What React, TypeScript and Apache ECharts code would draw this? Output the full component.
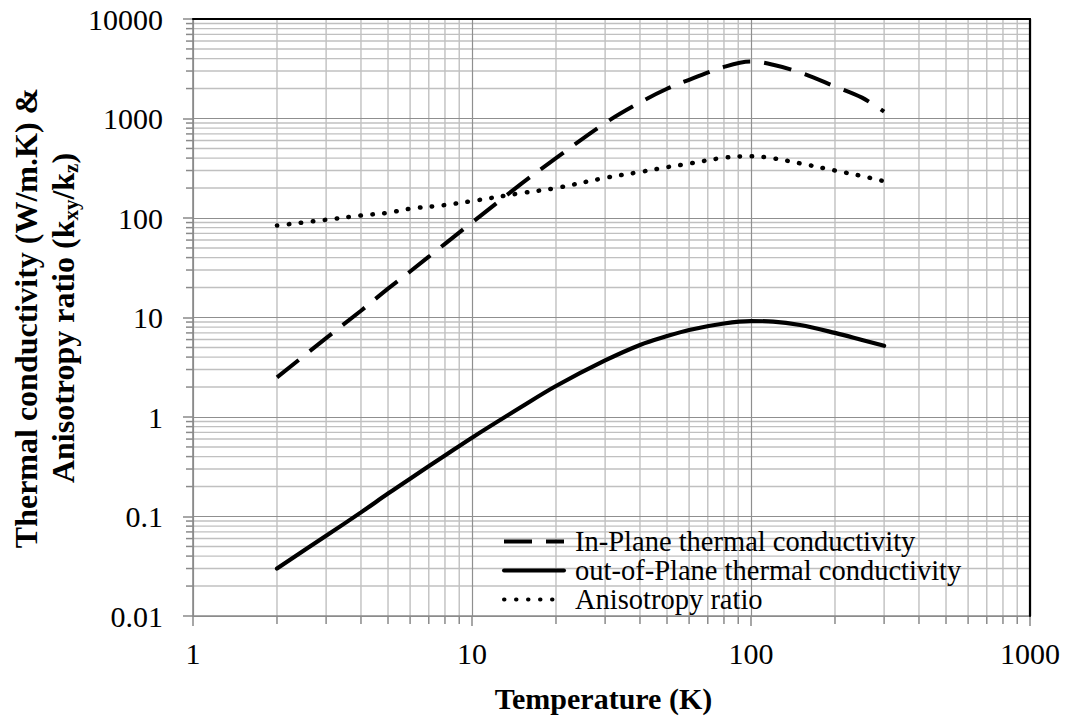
import React, { useEffect, useRef } from 'react';
import * as echarts from 'echarts';

const temperatures = [2, 3, 4, 5, 6, 8, 10, 15, 20, 30, 40, 50, 60, 80, 100, 120, 150, 200, 250, 300];
const inPlane = [2.5, 6.2, 11.7, 19.5, 29, 55, 90, 220, 400, 900, 1450, 1990, 2450, 3300, 3740, 3470, 2900, 2100, 1620, 1170];
const outOfPlane = [0.03, 0.064, 0.11, 0.17, 0.24, 0.41, 0.62, 1.26, 2.05, 3.7, 5.3, 6.5, 7.5, 8.7, 9.2, 9.1, 8.4, 7.0, 5.95, 5.2];
const anisotropy = [84, 96, 106, 113, 124, 135, 148, 178, 200, 253, 290, 324, 352, 403, 417, 398, 354, 300, 264, 234];

const seriesNames = [
  'In-Plane thermal conductivity',
  'out-of-Plane thermal conductivity',
  'Anisotropy ratio',
];

const X_MIN = 1;
const X_MAX = 1000;
const Y_MIN = 0.01;
const Y_MAX = 10000;
const xDecades = [1, 10, 100];
const yDecades = [0.01, 0.1, 1, 10, 100, 1000];
const minorSteps = [2, 3, 4, 5, 6, 7, 8, 9];

const FONT = 'Liberation Serif';

export default function App() {
  const ref = useRef<HTMLDivElement>(null);

  useEffect(() => {
    const chart = echarts.init(ref.current!, null, { renderer: 'svg' });

    const xMinor: number[] = [];
    xDecades.forEach((d) => minorSteps.forEach((m) => xMinor.push(parseFloat((d * m).toPrecision(6)))));
    const yMinor: number[] = [];
    yDecades.forEach((d) => minorSteps.forEach((m) => yMinor.push(parseFloat((d * m).toPrecision(6)))));

    const minorColor = '#c0c0c0';
    const tickColor = '#8a8a8a';
    const fmt = (v: number) => String(parseFloat(Number(v).toPrecision(8)));

    const option: any = {
      animation: false,
      backgroundColor: '#ffffff',
      textStyle: { fontFamily: FONT },
      grid: { left: 193, top: 19, right: 36, bottom: 103, show: false },
      legend: {
        data: seriesNames,
        orient: 'vertical',
        left: 502,
        top: 527,
        itemWidth: 60,
        itemHeight: 14,
        itemGap: 0,
        padding: 0,
        selectedMode: false,
        itemStyle: { opacity: 0 },
        lineStyle: { width: 4 },
        textStyle: {
          fontFamily: FONT,
          fontSize: 28.5,
          color: '#000',
          lineHeight: 28.5,
          padding: [0, 0, 0, 6],
        },
      },
      xAxis: [
        {
          type: 'log',
          logBase: 10,
          min: X_MIN,
          max: X_MAX,
          z: 1,
          axisLine: { show: true, lineStyle: { color: tickColor, width: 1.6 } },
          axisTick: { show: true, length: 10, lineStyle: { color: tickColor, width: 1.5 } },
          splitLine: { show: true, lineStyle: { color: '#8f8f8f', width: 1.2 } },
          axisLabel: {
            show: true,
            margin: 22,
            fontFamily: FONT,
            fontSize: 30,
            color: '#000',
            showMinLabel: true,
            showMaxLabel: true,
            formatter: fmt,
          },
          name: 'Temperature (K)',
          nameLocation: 'middle',
          nameGap: 67,
          nameTextStyle: { fontFamily: FONT, fontSize: 30, fontWeight: 'bold', color: '#000', padding: [0, 16, 0, 0] },
        },
        {
          type: 'log',
          logBase: 10,
          min: X_MIN,
          max: X_MAX,
          position: 'top',
          z: 4,
          axisLine: { show: true, lineStyle: { color: '#000', width: 2.2 } },
          axisTick: { show: false },
          axisLabel: { show: false },
          splitLine: { show: false },
        },
      ],
      yAxis: [
        {
          type: 'log',
          logBase: 10,
          min: Y_MIN,
          max: Y_MAX,
          z: 1,
          axisLine: { show: true, lineStyle: { color: tickColor, width: 1.6 } },
          axisTick: { show: true, length: 10, lineStyle: { color: tickColor, width: 1.5 } },
          splitLine: { show: true, lineStyle: { color: '#8f8f8f', width: 1.2 } },
          axisLabel: {
            show: true,
            margin: 30,
            fontFamily: FONT,
            fontSize: 30,
            color: '#000',
            showMinLabel: true,
            showMaxLabel: true,
            formatter: fmt,
          },
        },
        {
          type: 'log',
          logBase: 10,
          min: Y_MIN,
          max: Y_MAX,
          position: 'right',
          z: 4,
          axisLine: { show: true, lineStyle: { color: '#000', width: 2.2 } },
          axisTick: { show: false },
          axisLabel: { show: false },
          splitLine: { show: false },
        },
      ],
      graphic: [
        {
          type: 'text',
          x: 44,
          y: 318,
          rotation: Math.PI / 2,
          silent: true,
          style: {
            text: '{a|Thermal conductivity (W/m.K) &}\n{a|Anisotropy ratio (k}{s|xy}{a|/k}{s|z}{a|)}',
            fill: '#000',
            align: 'center',
            verticalAlign: 'middle',
            textAlign: 'center',
            textVerticalAlign: 'middle',
            rich: {
              a: { fontFamily: FONT, fontSize: 32, fontWeight: 'bold', lineHeight: 37, fill: '#000' },
              s: { fontFamily: FONT, fontSize: 21, fontWeight: 'bold', lineHeight: 37, verticalAlign: 'bottom', fill: '#000' },
            },
          },
        },
      ],
      series: [
        {
          type: 'custom',
          name: 'xMinorGrid',
          xAxisIndex: 0,
          yAxisIndex: 0,
          z: 0,
          silent: true,
          clip: false,
          data: xMinor.map((v) => [v, Y_MIN]),
          renderItem: (params: any, api: any) => {
            const x = api.value(0);
            const pb = api.coord([x, Y_MIN]);
            const pt = api.coord([x, Y_MAX]);
            return {
              type: 'group',
              children: [
                { type: 'line', shape: { x1: pb[0], y1: pb[1], x2: pt[0], y2: pt[1] }, style: { stroke: minorColor, lineWidth: 1.4 } },
                { type: 'line', shape: { x1: pb[0], y1: pb[1], x2: pb[0], y2: pb[1] + 8 }, style: { stroke: tickColor, lineWidth: 1.5 } },
              ],
            };
          },
        },
        {
          type: 'custom',
          name: 'yMinorGrid',
          xAxisIndex: 0,
          yAxisIndex: 0,
          z: 0,
          silent: true,
          clip: false,
          data: yMinor.map((v) => [X_MIN, v]),
          renderItem: (params: any, api: any) => {
            const y = api.value(1);
            const pl = api.coord([X_MIN, y]);
            const pr = api.coord([X_MAX, y]);
            return {
              type: 'group',
              children: [
                { type: 'line', shape: { x1: pl[0], y1: pl[1], x2: pr[0], y2: pr[1] }, style: { stroke: minorColor, lineWidth: 1.4 } },
                { type: 'line', shape: { x1: pl[0] - 7, y1: pl[1], x2: pl[0], y2: pl[1] }, style: { stroke: tickColor, lineWidth: 1.5 } },
              ],
            };
          },
        },
        {
          type: 'line',
          name: seriesNames[0],
          z: 3,
          data: temperatures.map((t, i) => [t, inPlane[i]]),
          symbol: 'none',
          smooth: 0.35,
          lineStyle: { color: '#000', width: 4, type: [28, 14], cap: 'butt' },
          itemStyle: { color: '#000' },
        },
        {
          type: 'line',
          name: seriesNames[1],
          z: 3,
          data: temperatures.map((t, i) => [t, outOfPlane[i]]),
          symbol: 'none',
          smooth: 0.35,
          lineStyle: { color: '#000', width: 4.2, type: 'solid', cap: 'round' },
          itemStyle: { color: '#000' },
        },
        {
          type: 'line',
          name: seriesNames[2],
          z: 3,
          data: temperatures.map((t, i) => [t, anisotropy[i]]),
          symbol: 'none',
          smooth: 0.35,
          lineStyle: { color: '#000', width: 4.5, type: [0.5, 11.5], cap: 'round' },
          itemStyle: { color: '#000' },
        },
      ],
    };

    chart.setOption(option);
    return () => chart.dispose();
  }, []);

  return (
    <div
      ref={ref}
      style={{ position: 'absolute', left: 0, top: 0, width: 1066, height: 719, background: '#fff' }}
    />
  );
}
